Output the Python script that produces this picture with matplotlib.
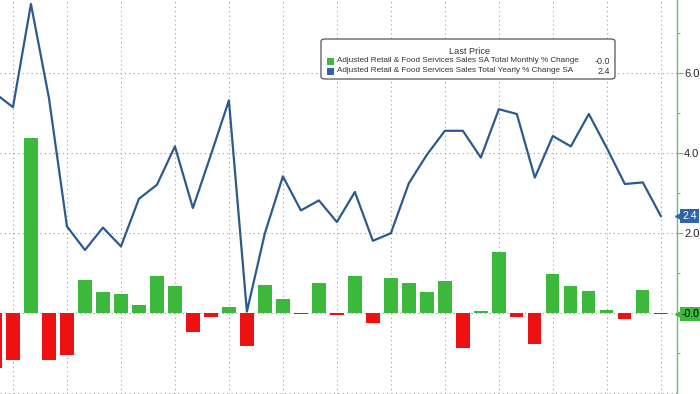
import matplotlib
matplotlib.use("Agg")
import matplotlib.pyplot as plt
import matplotlib.transforms as mtransforms
from matplotlib.patches import FancyBboxPatch
import numpy as np

# valores (38 meses)
variacao_mensal = [-1.36, -1.17, 4.38, -1.18, -1.04, 0.82, 0.52, 0.48, 0.20, 0.93,
                   0.68, -0.46, -0.10, 0.15, -0.83, 0.71, 0.36, -0.01, 0.76, -0.04,
                   0.93, -0.25, 0.87, 0.76, 0.52, 0.81, -0.86, 0.05, 1.53, -0.10,
                   -0.78, 0.97, 0.67, 0.55, 0.07, -0.14, 0.57, -0.01]
variacao_anual = [5.50, 5.15, 7.73, 5.38, 2.17, 1.58, 2.14, 1.67, 2.86, 3.21,
                  4.17, 2.63, 3.96, 5.32, 0.04, 2.00, 3.42, 2.57, 2.82, 2.28,
                  3.03, 1.81, 2.00, 3.25, 3.96, 4.56, 4.56, 3.89, 5.10, 4.98,
                  3.39, 4.43, 4.17, 4.98, 4.13, 3.23, 3.27, 2.43]
nome_mensal = "Adjusted Retail & Food Services Sales SA Total Monthly % Change"
nome_anual = "Adjusted Retail & Food Services Sales Total Yearly % Change SA"

VERDE = "#3cb93c"
VERMELHO = "#ee1111"
AZUL = "#2b5b8c"
AZUL_TAG = "#2f64a8"
EIXO = "#6cc06c"

plt.rcParams['font.family'] = ['Liberation Sans', 'DejaVu Sans']

fig = plt.figure(figsize=(7, 3.94), dpi=100)
ax = fig.add_axes([0, 0, 677 / 700, 1])

x = np.arange(len(variacao_mensal))
cores = [VERDE if v >= 0 else VERMELHO for v in variacao_mensal]
ax.bar(x, variacao_mensal, width=0.74, color=cores, zorder=2)
ax.plot(x, variacao_anual, color=AZUL, lw=1.6, zorder=3)

ax.set_xlim(0.28, 37.9)
ax.set_ylim(-2.02, 7.83)

# grades pontilhadas
for xv in range(1, len(x), 3):
    ax.axvline(xv, color="#9a9a9a", lw=0.8, ls=(0, (1, 3)), zorder=1)
for yv in [-2, 0, 2, 4, 6]:
    ax.axhline(yv, color="#9a9a9a", lw=0.8, ls=(0, (1, 3)), zorder=1)

for s in ["top", "left", "bottom"]:
    ax.spines[s].set_visible(False)
ax.spines["right"].set_color(EIXO)
ax.spines["right"].set_linewidth(1.0)
ax.set_xticks([])
ax.yaxis.tick_right()
ax.set_yticks([0, 2, 4, 6])
ax.set_yticklabels(["", "2.0", "4.0", "6.0"])
ax.set_yticks([-1, 1, 3, 5, 7], minor=True)
ax.tick_params(axis="y", which="major", direction="out", length=4, width=0.8,
               color=EIXO, pad=1, labelsize=8, labelcolor="#222222")
ax.tick_params(axis="y", which="minor", direction="out", length=2.5, width=0.8, color=EIXO)

# etiquetas do ultimo valor
trans = ax.get_yaxis_transform()
trans_txt = mtransforms.offset_copy(trans, fig=fig, x=5, y=0, units="dots")
trans_seta = mtransforms.offset_copy(trans, fig=fig, x=3, y=0, units="dots")
for val, txt, fundo, cor_txt in [(variacao_anual[-1], f"{variacao_anual[-1]:.1f}", AZUL_TAG, "white"),
                                 (variacao_mensal[-1], f"{-abs(variacao_mensal[-1]):.1f}", VERDE, "black")]:
    ax.text(1.0, val, txt, transform=trans_txt, ha="left", va="center", fontsize=7.5,
            color=cor_txt, zorder=6, clip_on=False,
            bbox=dict(boxstyle="square,pad=0.2", fc=fundo, ec="none"))
    ax.plot([1.0], [val], marker="<", ms=7, color=fundo, transform=trans_seta,
            clip_on=False, zorder=5)

# legenda
leg = FancyBboxPatch((321 / 700, 1 - 79 / 394), 294 / 700, 40 / 394,
                     boxstyle="round,pad=0,rounding_size=0.006", transform=fig.transFigure,
                     fc="white", ec="#555555", lw=0.9, zorder=10)
fig.patches.append(leg)
fig.text(470 / 700, 1 - 51 / 394, "Last Price", ha="center", va="center", fontsize=6.6,
         color="#333333", zorder=11)
for yy, cor, nome, val in [(61, VERDE, nome_mensal, f"{-abs(variacao_mensal[-1]):.1f}"),
                           (71, AZUL_TAG, nome_anual, f"{variacao_anual[-1]:.1f}")]:
    fig.patches.append(plt.Rectangle((327 / 700, 1 - (yy + 3.5) / 394), 7 / 700, 7 / 394,
                                     transform=fig.transFigure, fc=cor, ec="none", zorder=11))
    fig.text(337 / 700, 1 - yy / 394, nome, ha="left", va="center", fontsize=5.9,
             color="#333333", zorder=11)
    fig.text(610 / 700, 1 - yy / 394, val, ha="right", va="center", fontsize=6.4,
             color="#333333", zorder=11)

fig.savefig("out.png", dpi=100)
